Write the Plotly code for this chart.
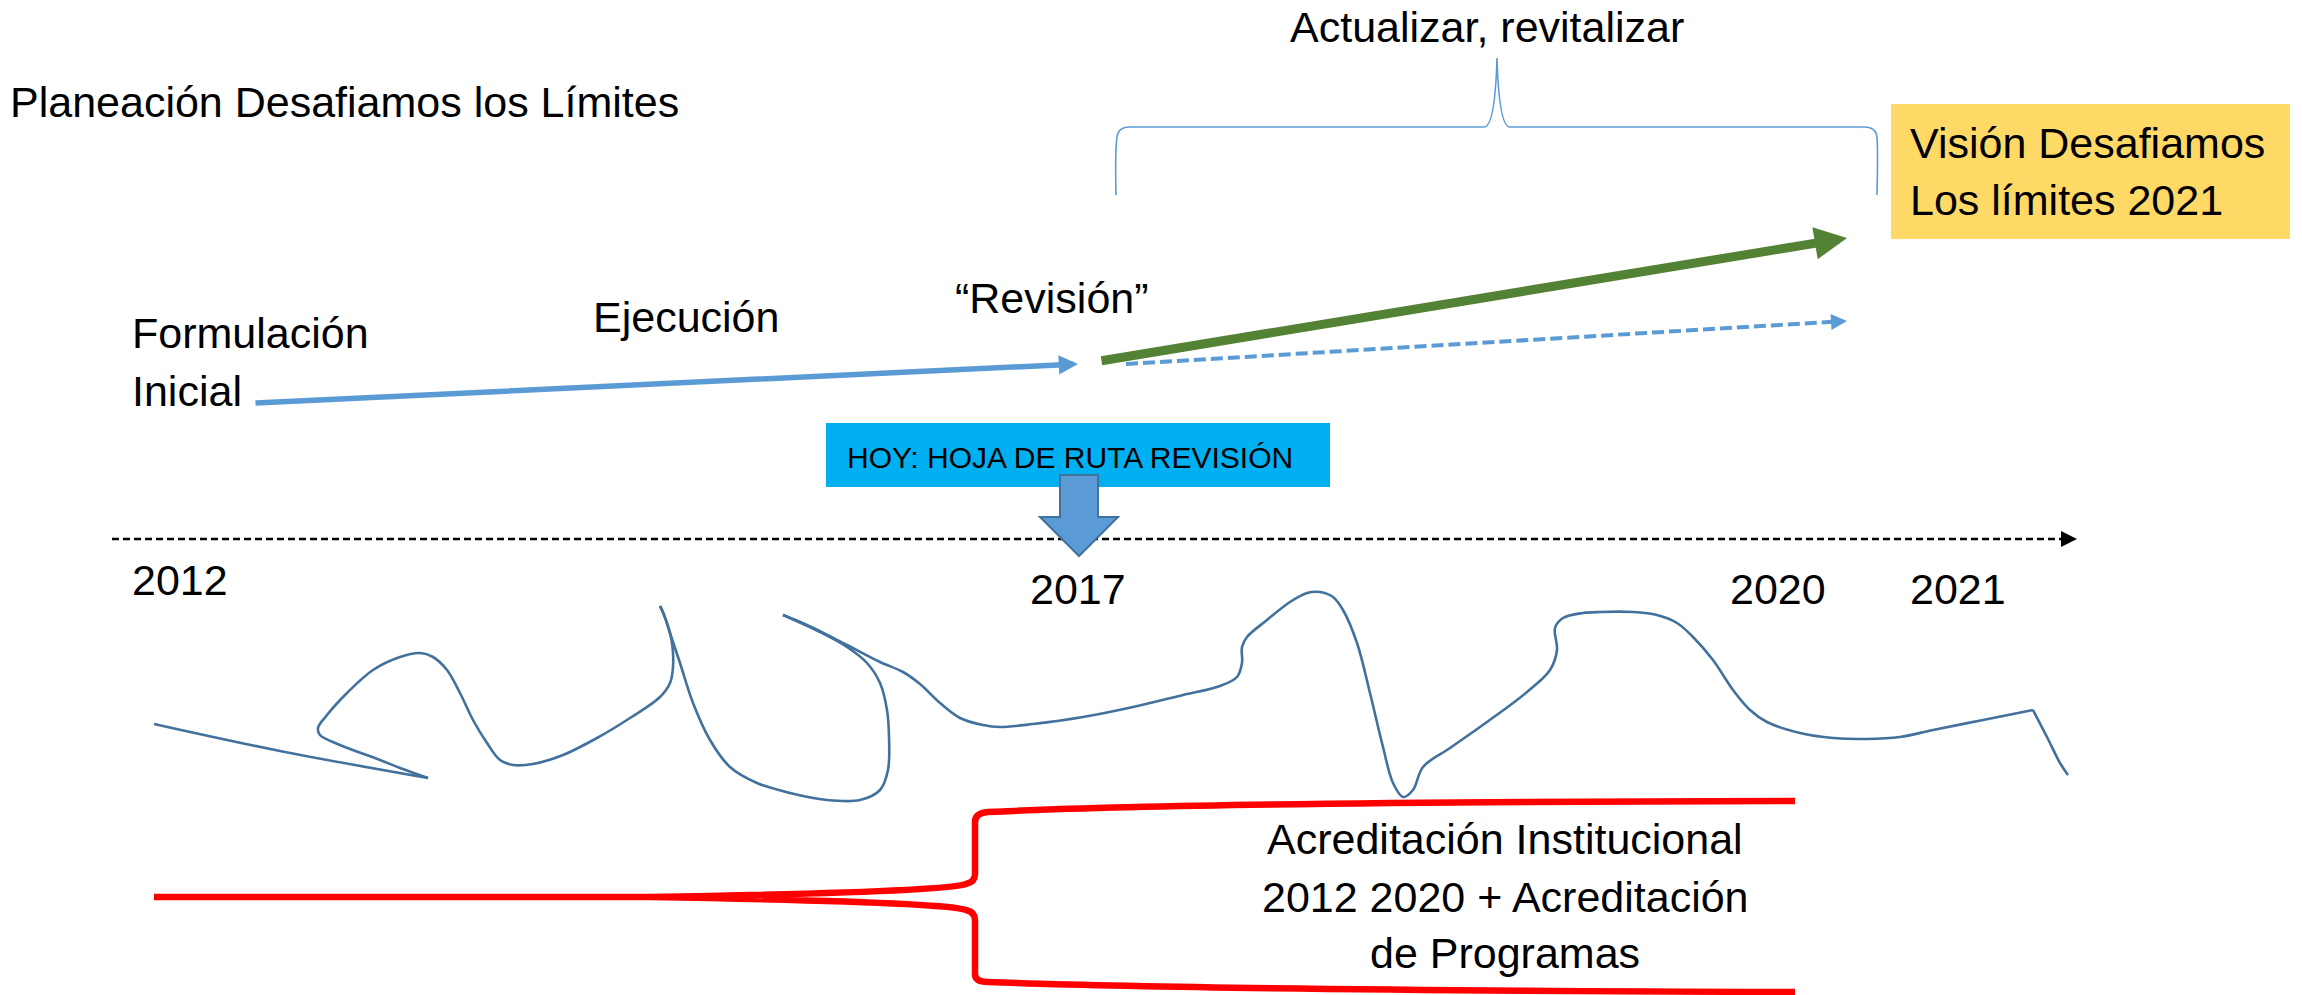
import plotly.graph_objects as go

W, H = 2302, 995
FONT = "Liberation Sans, Arial, sans-serif"

# ---------------- data ----------------
title_text = "Planeación Desafiamos los Límites"
phase_labels = ["Formulación", "Inicial", "Ejecución", "“Revisión”"]
phase_x = [130, 130, 591, 953]
phase_y = [333, 391, 317, 298]

years = ["2012", "2017", "2020", "2021"]
year_x = [130, 1028, 1728, 1908]
year_y = [580, 589, 589, 589]

vision_lines = ["Visión Desafiamos", "Los límites 2021"]
vision_y = [143, 200]

acred_lines = ["Acreditación Institucional", "2012 2020 + Acreditación", "de Programas"]
acred_y = [839, 897, 953]

# squiggle segments (x, y)
seg_a_x = [154, 280, 428]
seg_a_y = [724, 751, 778]
seg_b_x = [428, 400, 380, 340, 320, 318, 327, 347, 373, 400, 420, 433, 447, 460, 473, 487, 500,
           513, 533, 563, 597, 630, 660, 670, 673, 672, 667, 660]
seg_b_y = [778, 768, 760, 745, 735, 728, 715, 693, 670, 657, 653, 657, 670, 693, 720, 743, 760,
           765, 764, 755, 738, 718, 697, 683, 667, 643, 623, 606]
seg_c_x = [660, 663, 670, 680, 693, 710, 730, 757, 790, 827, 860, 880, 888, 889, 887, 880, 867,
           847, 820, 783]
seg_c_y = [606, 612, 633, 663, 703, 740, 767, 783, 793, 800, 800, 790, 770, 737, 710, 683, 663,
           647, 632, 615]
seg_d_x = [783, 807, 847, 880, 903, 920, 940, 960, 983, 1000, 1033, 1083, 1133, 1183, 1220, 1237,
           1242, 1242, 1247, 1267, 1290, 1307, 1320, 1333, 1343, 1357, 1370, 1383, 1393, 1403,
           1413, 1423, 1450, 1487, 1527, 1550, 1557, 1555, 1563, 1583, 1600, 1633, 1657, 1677,
           1693, 1713, 1733, 1750, 1767, 1800, 1833, 1867, 1900, 1933, 1983, 2033]
seg_d_y = [615, 625, 645, 662, 672, 684, 703, 718, 725, 727, 724, 717, 707, 695, 686, 677,
           663, 647, 637, 620, 602, 593, 592, 597, 610, 643, 693, 747, 783, 797,
           790, 767, 748, 722, 692, 670, 650, 628, 618, 613, 612, 612, 615, 623,
           637, 660, 690, 710, 722, 733, 738, 739, 737, 730, 720, 710]
seg_e_x = [2033, 2047, 2060, 2068]
seg_e_y = [710, 737, 763, 775]

# arrows: (start x, start y, tip x, tip y)
blue_arrow = [254, 403, 1078, 364]
green_arrow = [1100, 361, 1847, 238]
dashed_arrow = [1126, 364, 1847, 321]
timeline = [112, 539, 2077]

# ---------------- figure ----------------
fig = go.Figure()

squiggle = [(seg_a_x, seg_a_y), (seg_b_x, seg_b_y), (seg_c_x, seg_c_y),
            (seg_d_x, seg_d_y), (seg_e_x, seg_e_y)]
for sx, sy in squiggle:
    fig.add_trace(go.Scatter(x=sx, y=sy, mode="lines",
                             line=dict(color="#41719C", width=2.6, shape="spline", smoothing=1.0),
                             hoverinfo="skip", showlegend=False))

shapes = []
# boxes
shapes.append(dict(type="rect", xref="x", yref="y", x0=1891, x1=2290, y0=104, y1=239,
                   fillcolor="#FFD966", line=dict(width=0), layer="below"))
shapes.append(dict(type="rect", xref="x", yref="y", x0=826, x1=1330, y0=423, y1=487,
                   fillcolor="#00B0F0", line=dict(width=0), layer="below"))
# top brace
shapes.append(dict(type="path", xref="x", yref="y",
                   path="M1116,195 Q1115,150 1117,137 Q1118,127 1130,127 L1484,127 Q1495,127 1497,58 "
                        "Q1499,127 1510,127 L1864,127 Q1876,127 1877,137 Q1878,150 1877,195",
                   line=dict(color="#5B9BD5", width=1.6)))
# dashed blue line
shapes.append(dict(type="line", xref="x", yref="y", x0=dashed_arrow[0], y0=dashed_arrow[1],
                   x1=dashed_arrow[2] - 14, y1=dashed_arrow[3] + 0.8,
                   line=dict(color="#5B9BD5", width=4, dash="12px,5px")))
# timeline
shapes.append(dict(type="line", xref="x", yref="y", x0=timeline[0], y0=timeline[1],
                   x1=timeline[2] - 14, y1=timeline[1],
                   line=dict(color="black", width=2.6, dash="7px,4px")))
shapes.append(dict(type="path", xref="x", yref="y",
                   path=f"M{timeline[2]-16},{timeline[1]-8} L{timeline[2]},{timeline[1]} "
                        f"L{timeline[2]-16},{timeline[1]+8} Z",
                   fillcolor="black", line=dict(width=0)))
# block down arrow
shapes.append(dict(type="path", xref="x", yref="y",
                   path="M1060,475 L1098,475 L1098,517 L1118,517 L1079,556 L1040,517 L1060,517 Z",
                   fillcolor="#5B9BD5", line=dict(color="#41719C", width=2)))
# red brace
shapes.append(dict(type="path", xref="x", yref="y",
                   path="M154,897 L650,897 Q945,892 966,884 Q975,882 975,874 L975,822 Q975,813 988,812 "
                        "Q1200,802 1795,801 "
                        "M650,897 Q945,902 966,910 Q975,912 975,920 L975,974 Q975,982 988,982 "
                        "Q1200,990 1795,992",
                   line=dict(color="#FF0000", width=6.5)))

annotations = []
def txt(t, x, y, size=43, xanchor="left"):
    annotations.append(dict(text=t, x=x, y=y, xref="x", yref="y", showarrow=False,
                            xanchor=xanchor, yanchor="middle",
                            font=dict(family=FONT, size=size, color="black")))

txt(title_text, 8, 102)
txt("Actualizar, revitalizar", 1487, 27, xanchor="center")
for t, yy in zip(vision_lines, vision_y):
    txt(t, 1908, yy)
for t, xx, yy in zip(phase_labels, phase_x, phase_y):
    txt(t, xx, yy)
txt("HOY: HOJA DE RUTA REVISIÓN", 845, 457, size=30)
for t, xx, yy in zip(years, year_x, year_y):
    txt(t, xx, yy)
for t, yy in zip(acred_lines, acred_y):
    txt(t, 1505, yy, xanchor="center")

# arrows with heads
annotations.append(dict(x=blue_arrow[2], y=blue_arrow[3], ax=blue_arrow[0], ay=blue_arrow[1],
                        xref="x", yref="y", axref="x", ayref="y", text="", showarrow=True,
                        arrowhead=2, arrowwidth=5.5, arrowsize=0.7, arrowcolor="#5B9BD5"))
annotations.append(dict(x=green_arrow[2], y=green_arrow[3], ax=green_arrow[0], ay=green_arrow[1],
                        xref="x", yref="y", axref="x", ayref="y", text="", showarrow=True,
                        arrowhead=2, arrowwidth=9, arrowsize=0.72, arrowcolor="#548235"))
annotations.append(dict(x=dashed_arrow[2], y=dashed_arrow[3], ax=dashed_arrow[2] - 20,
                        ay=dashed_arrow[3] + 1.2,
                        xref="x", yref="y", axref="x", ayref="y", text="", showarrow=True,
                        arrowhead=2, arrowwidth=4, arrowsize=0.8, arrowcolor="#5B9BD5"))

fig.update_layout(
    width=W, height=H, margin=dict(l=0, r=0, t=0, b=0),
    paper_bgcolor="white", plot_bgcolor="white",
    xaxis=dict(range=[0, W], visible=False, fixedrange=True),
    yaxis=dict(range=[H, 0], visible=False, fixedrange=True),
    shapes=shapes, annotations=annotations, showlegend=False,
)

fig.write_html("out.html", config={"displayModeBar": False},
               post_script="document.body.style.margin='0';document.body.style.overflow='hidden';")
